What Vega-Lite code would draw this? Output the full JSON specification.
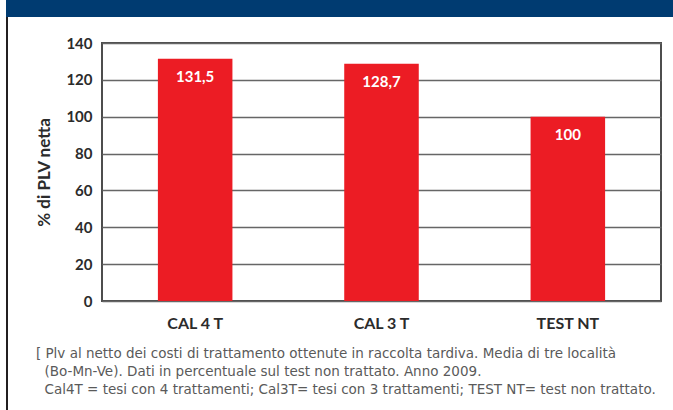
{
  "$schema": "https://vega.github.io/schema/vega-lite/v6.json",
  "padding": 0,
  "background": "white",
  "spacing": 0,
  "config": {
    "concat": {"spacing": 0},
    "view": {"stroke": null},
    "font": "Lato"
  },
  "vconcat": [
    {
      "hconcat": [
        {"width": 6, "height": 17, "data": {"values": []}, "mark": "rect", "encoding": {}},
        {"width": 667, "height": 17, "view": {"fill": "#003b71", "stroke": null}, "data": {"values": []}, "mark": "rect", "encoding": {}}
      ],
      "spacing": 0
    },
    {
      "hconcat": [
        {
          "hconcat": [
            {"width": 6, "height": 393, "data": {"values": []}, "mark": "rect", "encoding": {}},
            {"width": 2, "height": 393, "view": {"fill": "#231f20", "stroke": null}, "data": {"values": []}, "mark": "rect", "encoding": {}}
          ],
          "spacing": 0
        },
        {
          "vconcat": [
            {"width": 559, "height": 18, "data": {"values": []}, "mark": "rect", "encoding": {}},
            {
              "width": 559,
              "height": 258,
              "view": {"stroke": "#4d4d4d", "strokeWidth": 2},
              "title": {
                "text": [
                  "[ Plv al netto dei costi di trattamento ottenute in raccolta tardiva. Media di tre località",
                  "\u200b\u00a0\u00a0(Bo-Mn-Ve). Dati in percentuale sul test non trattato. Anno 2009.",
                  "\u200b\u00a0\u00a0Cal4T = tesi con 4 trattamenti;  Cal3T= tesi con 3 trattamenti; TEST NT= test non trattato."
                ],
                "orient": "bottom",
                "anchor": "start",
                "frame": "bounds",
                "fontSize": 13.5,
                "fontWeight": "normal",
                "color": "#5a5a5a",
                "lineHeight": 18,
                "offset": 16,
                "font": "DejaVu Sans"
              },
              "data": {
                "values": [
                  {"tesi": "CAL 4 T", "plv": 131.5, "label": "131,5"},
                  {"tesi": "CAL 3 T", "plv": 128.7, "label": "128,7"},
                  {"tesi": "TEST NT", "plv": 100, "label": "100"}
                ]
              },
              "encoding": {
                "x": {
                  "field": "tesi",
                  "type": "nominal",
                  "sort": null,
                  "scale": {"paddingInner": 0.6, "paddingOuter": 0.3},
                  "axis": {
                    "title": null,
                    "labelAngle": 0,
                    "labelFontSize": 16,
                    "labelFontWeight": "bold",
                    "labelColor": "#2b2b2b",
                    "labelPadding": 14,
                    "domain": false,
                    "ticks": false
                  }
                },
                "y": {
                  "field": "plv",
                  "type": "quantitative",
                  "scale": {"domain": [0, 140]},
                  "axis": {
                    "title": "% di PLV netta",
                    "values": [0, 20, 40, 60, 80, 100, 120, 140],
                    "titleFontSize": 17,
                    "titleFontWeight": "bold",
                    "titleColor": "#2b2b2b",
                    "titlePadding": 12,
                    "labelFontSize": 15,
                    "labelFontWeight": "bold",
                    "labelColor": "#2b2b2b",
                    "labelPadding": 10,
                    "domain": false,
                    "ticks": false,
                    "grid": true,
                    "gridColor": "#666666",
                    "gridWidth": 1.5
                  }
                }
              },
              "layer": [
                {"mark": {"type": "bar", "color": "#ec1c24"}},
                {
                  "mark": {"type": "text", "baseline": "middle", "dy": 18, "color": "white", "fontSize": 15, "fontWeight": "bold"},
                  "encoding": {"text": {"field": "label"}}
                }
              ]
            }
          ],
          "spacing": 0
        }
      ],
      "spacing": 26
    }
  ]
}
